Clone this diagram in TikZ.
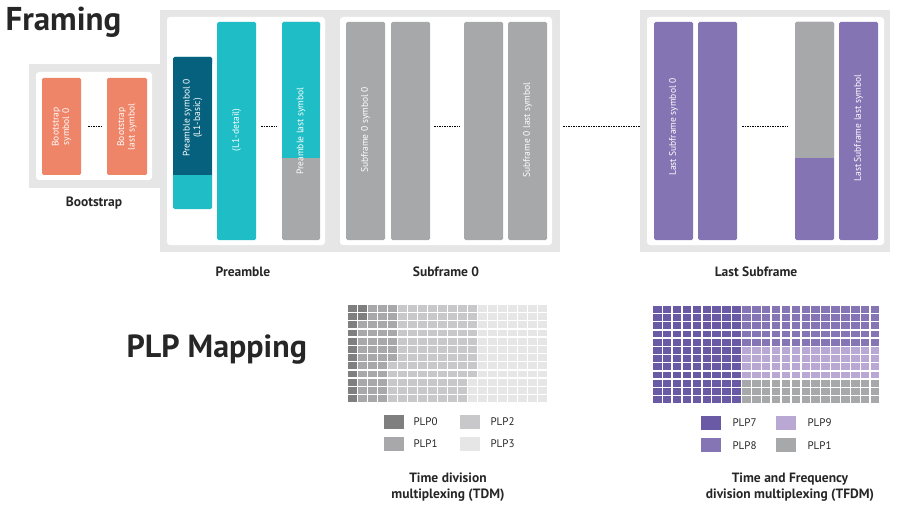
\documentclass[tikz,border=0pt]{standalone}
\usepackage{fontspec}
\setmainfont{PT Sans}
\definecolor{boxg}{HTML}{E6E6E6}
\definecolor{orng}{HTML}{EE8468}
\definecolor{teal}{HTML}{1FBEC6}
\definecolor{dteal}{HTML}{05617E}
\definecolor{gbar}{HTML}{A7A8AA}
\definecolor{purp}{HTML}{8474B4}
\definecolor{plpa}{HTML}{7F7F80}
\definecolor{plpb}{HTML}{A8A8AA}
\definecolor{plpc}{HTML}{C8C8CA}
\definecolor{plpd}{HTML}{E6E6E7}
\definecolor{plpg}{HTML}{6A5AA6}
\definecolor{plph}{HTML}{8575B5}
\definecolor{plpi}{HTML}{B9A8D4}
\begin{document}
\begin{tikzpicture}[x=1pt,y=-1pt,
  outer/.style={fill=boxg},
  inner/.style={fill=white,rounded corners=3pt},
  bar/.style={rounded corners=1.5pt},
  btxt/.style={text=white,font=\fontsize{9.5}{10.5}\selectfont,rotate=90,align=center},
  lab/.style={font=\bfseries\fontsize{13.5}{16}\selectfont,text=black!85},
  dots/.style={draw=black,line width=1pt,dash pattern=on 1.5pt off 1pt},
  leg/.style={font=\fontsize{11}{12}\selectfont,anchor=west,text=black!85}]
\useasboundingbox (0,0) rectangle (900,516);
% outer boxes
\fill[outer] (29,64) rectangle (160,188);
\fill[outer] (160,10) rectangle (333,252);
\fill[outer] (333,10) rectangle (560,252);
\fill[outer] (640,10) rectangle (890,252);
\fill[inner] (36,72) rectangle (152,180);
\fill[inner] (167,17) rectangle (325,245);
\fill[inner] (340,17) rectangle (552,245);
\fill[inner] (647,17) rectangle (884,245);
% bootstrap bars
\fill[bar,orng] (42,78) rectangle (81,175);
\fill[bar,orng] (107,78) rectangle (147,175);
\node[btxt] (b0) at (61.5,127) {Bootstrap\\symbol 0};
\node[btxt] (b1) at (127,127) {Bootstrap\\last symbol};
% preamble bars
\fill[bar,teal] (173,57) rectangle (212,209);
\fill[dteal] (173,59) rectangle (212,175);
\fill[dteal,rounded corners=1.5pt] (173,57) rectangle (212,65);
\fill[bar,teal] (217,22) rectangle (256,240);
\fill[bar,gbar] (282,22) rectangle (320,240);
\fill[teal,rounded corners=1.5pt] (282,22) rectangle (320,30);
\fill[teal] (282,26) rectangle (320,158);
\node[btxt] (p0) at (192.5,118) {Preamble symbol 0\\(L1-basic)};
\node[btxt] (p1) at (236.5,130) {(L1-detail)};
\node[btxt] (p2) at (301,131) {Preamble last symbol};
% subframe 0
\foreach \x in {346,391,464,508}
  \fill[bar,gbar] (\x,22) rectangle ++(39,218);
\node[btxt] (sf0) at (365.5,130) {Subframe 0 symbol 0};
\node[btxt] (sf1) at (527.5,130) {Subframe 0 last symbol};
% last subframe
\fill[bar,purp] (654,22) rectangle (693,240);
\fill[bar,purp] (698,22) rectangle (737,240);
\fill[bar,purp] (795,22) rectangle (834,240);
\fill[gbar,rounded corners=1.5pt] (795,22) rectangle (834,30);
\fill[gbar] (795,26) rectangle (834,158);
\fill[bar,purp] (839,22) rectangle (878,240);
\node[btxt] (l0) at (673.5,127) {Last Subframe symbol 0};
\node[btxt] (l1) at (858.5,128) {Last Subframe last symbol};
% dotted connectors
\coordinate (d1a) at (88,127); \coordinate (d1b) at (101,127);
\coordinate (d2a) at (261,127); \coordinate (d2b) at (277,127);
\coordinate (d3a) at (434,127); \coordinate (d3b) at (460,127);
\coordinate (d4a) at (563,127); \coordinate (d4b) at (640,127);
\coordinate (d5a) at (742,127); \coordinate (d5b) at (788,127);
\foreach \a/\b in {d1a/d1b,d2a/d2b,d3a/d3b,d4a/d4b,d5a/d5b} \draw[dots] (\a) -- (\b);
% labels
\node[anchor=west,font=\bfseries\fontsize{33}{36}\selectfont,text=black!85] (fr) at (2,22) {Framing};
\node[anchor=west,font=\bfseries\fontsize{32}{34}\selectfont,text=black!85] (pm) at (123,350) {PLP Mapping};
\node[lab] (lb) at (94,203) {Bootstrap};
\node[lab] (lp) at (243,272) {Preamble};
\node[lab] (ls) at (446,272) {Subframe 0};
\node[lab] (ll) at (756,272) {Last Subframe};
% TDM grid
\def\cellA#1#2#3{\fill[#3] ({348+10*#1},{305+8.2*#2}) rectangle ++(8.5,6.8);}
\foreach \r in {0,...,11} {\cellA{0}{\r}{plpa}}
\foreach \r in {0,1} {\cellA{1}{\r}{plpa}}
\foreach \r in {2,...,11} {\cellA{1}{\r}{plpb}}
\foreach \c in {2,3} \foreach \r in {0,...,11} {\cellA{\c}{\r}{plpb}}
\foreach \r in {0,...,6} {\cellA{4}{\r}{plpb}}
\foreach \r in {7,...,11} {\cellA{4}{\r}{plpc}}
\foreach \c in {5,...,11} \foreach \r in {0,...,11} {\cellA{\c}{\r}{plpc}}
\foreach \r in {0,...,8} {\cellA{12}{\r}{plpc}}
\foreach \r in {9,10,11} {\cellA{12}{\r}{plpd}}
\foreach \c in {13,...,19} \foreach \r in {0,...,11} {\cellA{\c}{\r}{plpd}}
% TFDM grid
\def\cellB#1#2#3{\fill[#3] ({653+9.9*#1},{306+8.2*#2}) rectangle ++(8.5,6.8);}
\foreach \c in {0,...,8} \foreach \r in {0,...,11} {\cellB{\c}{\r}{plpg}}
\foreach \c in {9,...,22} {
  \foreach \r in {0,...,4} {\cellB{\c}{\r}{plph}}
  \foreach \r in {5,...,8} {\cellB{\c}{\r}{plpi}}
  \foreach \r in {9,10,11} {\cellB{\c}{\r}{gbar}}
}
% legends
\fill[plpa] (384,415) rectangle ++(20,14); \node[leg] (t0) at (410,422) {PLP0};
\fill[plpb] (384,437) rectangle ++(20,14); \node[leg] (t1) at (410,444) {PLP1};
\fill[plpc] (460,415) rectangle ++(20,14); \node[leg] (t2) at (487,422) {PLP2};
\fill[plpd] (460,437) rectangle ++(20,14); \node[leg] (t3) at (487,444) {PLP3};
\fill[plpg] (701,416) rectangle ++(20,14); \node[leg] (t7) at (729,423) {PLP7};
\fill[plph] (701,438) rectangle ++(20,14); \node[leg] (t8) at (729,446) {PLP8};
\fill[plpi] (776,416) rectangle ++(20,14); \node[leg] (t9) at (804,423) {PLP9};
\fill[gbar] (776,438) rectangle ++(20,14); \node[leg] (tb) at (804,446) {PLP1};
\node[lab,align=center] (ct) at (448,487) {Time division\\multiplexing (TDM)};
\node[lab,align=center] (cf) at (790,487) {Time and Frequency\\division multiplexing (TFDM)};
\end{tikzpicture}
\end{document}
